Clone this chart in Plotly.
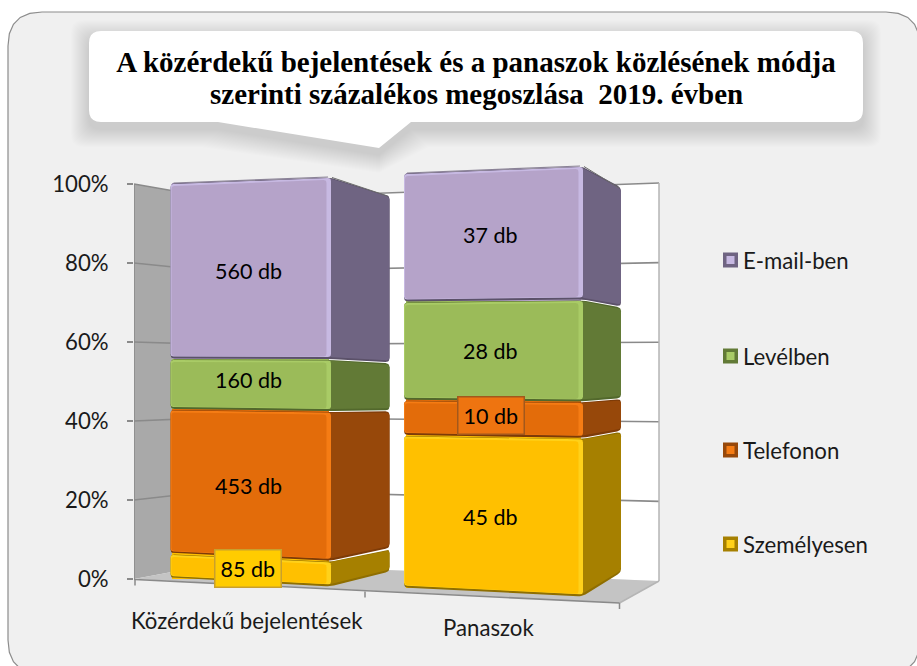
import plotly.graph_objects as go

# ---- data ----
categories = ["Közérdekű bejelentések", "Panaszok"]
series_names = ["Személyesen", "Telefonon", "Levélben", "E-mail-ben"]
szemelyesen = [85, 45]
telefonon = [453, 10]
levelben = [160, 28]
email = [560, 37]
y_ticks = [0, 20, 40, 60, 80, 100]
y_tick_labels = ["0%", "20%", "40%", "60%", "80%", "100%"]
title_line1 = "<b>A közérdekű bejelentések és a panaszok közlésének módja</b>"
title_line2 = "<b>szerinti százalékos megoszlása\u00a0 2019. évben</b>"

series_values = [szemelyesen, telefonon, levelben, email]
front_col = ["#ffc000", "#e36c0a", "#9bbb59", "#b5a3c9"]
light_col = ["#ffd11a", "#f57c14", "#a9cb66", "#c7b9e2"]
side_col = ["#a68000", "#97480a", "#627a36", "#6f6482"]
dark_col = ["#8f6e00", "#7d3b08", "#52682c", "#5b5169"]
# small px corrections for the perspective of the original drawing
label_nudge = [[3, 5, -4, 0], [7, 0, 2, -2]]
boundary_nudge = [[0, 2, 0, 0, 0], [0, 3, 2.5, 1, 0]]

W, H = 917, 666
L, R, T, B = 134, 900, 150, 640  # plot area, px
FONT = "Lato"
FS = 21.5
FS2 = 22.2

# x scale: category 0 at px 250.5, category 1 at px 493
def X(px):
    return (px - 250.5) / 242.5

def Y(px):
    return (579 - px) / 3.95

# perspective of each stack: px of a cumulative percentage on three vertical edges
persp = [
    dict(left=(578.5, 183), right=(587, 177), side=(572, 195), xs=(170.5, 330, 389.5)),
    dict(left=(588, 173), right=(597, 166), side=(573, 187), xs=(404, 582, 621)),
]

def edge(p, name, c, nudge=0):
    a, b = p[name]
    return a + (b - a) * c / 100 + nudge

def round_poly(pts, r, sharp=()):
    out = []
    n = len(pts)
    for i in range(n):
        p0, p1, p2 = pts[i - 1], pts[i], pts[(i + 1) % n]
        if i in sharp:
            out.append(p1)
            continue
        def toward(a, b, d):
            dx, dy = b[0] - a[0], b[1] - a[1]
            ln = max((dx * dx + dy * dy) ** 0.5, 1e-6)
            d = min(d, ln / 2)
            return (a[0] + dx * d / ln, a[1] + dy * d / ln)
        s, e = toward(p1, p0, r), toward(p1, p2, r)
        for k in range(6):
            t = k / 5
            out.append(((1 - t) ** 2 * s[0] + 2 * t * (1 - t) * p1[0] + t * t * e[0],
                        (1 - t) ** 2 * s[1] + 2 * t * (1 - t) * p1[1] + t * t * e[1]))
    return out

fig = go.Figure()

def poly(pts, color, ymap, yaxis, r=0):
    if r:
        pts = round_poly(pts, r)
    pts = list(pts) + [pts[0]]
    fig.add_trace(go.Scatter(x=[X(p[0]) for p in pts], y=[ymap(p[1]) for p in pts], yaxis=yaxis,
                             mode="lines", line=dict(width=0), fill="toself", fillcolor=color,
                             hoverinfo="skip", showlegend=False))

def line(pts, color, width, ymap=Y, yaxis="y"):
    fig.add_trace(go.Scatter(x=[X(p[0]) for p in pts], y=[ymap(p[1]) for p in pts], yaxis=yaxis,
                             mode="lines", line=dict(color=color, width=width),
                             hoverinfo="skip", showlegend=False))

# ---- chart frame ----
def wall_l(t):  # px at the inner corner
    return 563 - 364 * t / 100
def wall_r(t):
    return 581 - 398 * t / 100
def axis_px(t):
    return 579 - 395 * t / 100

poly([(659, wall_r(100)), (220, wall_l(100)), (220, wall_l(0)), (659, wall_r(0))], "#ffffff", Y, "y")
poly([(134, axis_px(100)), (220, wall_l(100)), (220, wall_l(0)), (134, axis_px(0))], "#a9a9a9", Y, "y")
poly([(134, axis_px(0)), (220, wall_l(0)), (659, wall_r(0)), (619.5, 603)], "#c4c4c4", Y, "y")
for t in y_ticks:
    if t:
        line([(134, axis_px(t)), (220, wall_l(t)), (659, wall_r(t))], "#8a8a8a", 1.6)
line([(659, wall_r(100)), (659, wall_r(0))], "#b5b5b5", 1.5)
line([(659, wall_r(0)), (619.5, 603)], "#b5b5b5", 1.5)
line([(134, axis_px(100)), (134, axis_px(0)), (135, 579.5), (619.5, 603)], "#8a8a8a", 1.6)
for px, py in [(135, 579.5), (365, 591.5), (619.5, 603)]:
    line([(px, py), (px, py + 6)], "#8a8a8a", 1.5)

# ---- stacked bars ----
totals = [sum(s[i] for s in series_values) for i in range(len(categories))]
axes = ["y2", "y3"]
for b, cat in enumerate(categories):
    p = persp[b]
    x0, x1, x2 = p["xs"]
    a, c = p["left"]
    ymap = (lambda a, c: (lambda px: (px - a) / (c - a) * 100))(a, c)
    cum = 0
    label_pos = []
    for i, name in enumerate(series_names):
        pct = series_values[i][b] / totals[b] * 100
        fig.add_trace(go.Bar(x=[b], y=[pct], width=(x1 - x0 - 3) / 242.5, yaxis=axes[b],
                             name=name, marker=dict(color=front_col[i], line=dict(width=0)),
                             showlegend=False,
                             hovertemplate=f"{cat}<br>{name}: {series_values[i][b]} db<extra></extra>"))
        label_pos.append(cum + pct / 2)
        cum += pct
    cum = 0
    for i, name in enumerate(series_names):
        pct = series_values[i][b] / totals[b] * 100
        cum2 = cum + pct
        n0, n1 = boundary_nudge[b][i], boundary_nudge[b][i + 1]
        lb, lt = edge(p, "left", cum, n0), edge(p, "left", cum2, n1)
        rb, rt = edge(p, "right", cum, n0), edge(p, "right", cum2, n1)
        sb, st = edge(p, "side", cum, n0), edge(p, "side", cum2, n1)
        # dark seam under the block, then side and front faces with bevels
        poly([(x0, lt + .5), (x1, rt + .5), (x2, st + .5), (x2, sb - .5), (x1, rb - .5), (x0, lb - .5)],
             dark_col[i], ymap, axes[b], r=4)
        poly([(x1 - 1, rt + 1), (x2, st + 2), (x2, sb - 2.5), (x1 - 1, rb - 2.5)], side_col[i], ymap, axes[b], r=3)
        poly([(x0, lt + 1), (x1 + 1, rt + 1), (x1 + 1, rb - 2.5), (x0, lb - 2.5)], light_col[i], ymap, axes[b], r=3)
        poly([(x0 + 1, lt + 3), (x1 - 3.5, rt + 3), (x1 - 3.5, rb - 3), (x0 + 1, lb - 3)], front_col[i], ymap, axes[b], r=3)
        if i == len(series_names) - 1:
            line([(x0 + 3, lt), (x1 - 2, rt)], "#8b8397", 1.2, ymap, axes[b])
            line([(x1 + 2, rt + .5), (x2 - 2, st + 1)], "#6a6a6a", 1, ymap, axes[b])
        cum = cum2
    # value labels
    for i, name in enumerate(series_names):
        val = series_values[i][b]
        boxed = (b == 0 and i == 0) or (b == 1 and i == 1)
        fig.add_annotation(x=b - 0.01, y=label_pos[i], xref="x", yref=axes[b], yanchor="middle",
                           yshift=-label_nudge[b][i],
                           text=f"{val} db", showarrow=False,
                           font=dict(family=FONT, size=FS, color="#000000"),
                           bgcolor=("#ffcc00" if i == 0 else "#ee7410") if boxed else None,
                           bordercolor=("#c9a02c" if i == 0 else "#a2581c") if boxed else None,
                           borderwidth=1.5 if boxed else 0,
                           borderpad=5 if boxed else 0)

# ---- legend (swatch + label, spaced as in the chart) ----
legend_px = [544, 450, 356, 260]
for i, name in enumerate(series_names):
    sy = [Y(legend_px[i])]
    fig.add_trace(go.Scatter(x=[X(730.5)], y=sy, mode="markers", hoverinfo="skip", showlegend=False,
                             marker=dict(symbol="square", size=15, color=side_col[i])))
    fig.add_trace(go.Scatter(x=[X(730.5)], y=sy, mode="markers", hoverinfo="skip", showlegend=False,
                             marker=dict(symbol="square", size=8, color=light_col[i])))
    fig.add_annotation(x=X(741), y=sy[0], xref="x", yref="y", xanchor="left", yanchor="middle",
                       text=name, showarrow=False, font=dict(family=FONT, size=FS2, color="#1a1a1a"))

# ---- category labels ----
for b, (cat, px, py) in enumerate(zip(categories, (247, 488), (620, 627))):
    fig.add_annotation(x=X(px), y=Y(py), xref="x", yref="y", yanchor="middle", text=cat, showarrow=False,
                       font=dict(family=FONT, size=FS2, color="#1a1a1a"))

# ---- panel and callout ----
def pxs(px):
    return (px - L) / (R - L)
def pys(py):
    return (B - py) / (B - T)
def path(pts):
    return "M" + "L".join(f"{pxs(x):.5f},{pys(y):.5f}" for x, y in pts) + "Z"

shapes = [dict(type="path", xref="paper", yref="paper", layer="below",
               path=path(round_poly([(8, 12), (920, 12), (920, 674), (8, 674)], 34)),
               fillcolor="#f0f0f0", line=dict(color="#8c8c8c", width=1.2))]
def callout(e, dy):
    return round_poly([(89 - e, 31 - e + dy), (863 + e, 31 - e + dy), (863 + e, 122 + e + dy), (411 + e, 122 + e + dy),
                       (379, 148 + e + dy), (218 - e, 122 + e + dy), (89 - e, 122 + e + dy), (89 - e, 90 + dy)],
                      12, sharp=(3, 4, 5))
for e in range(18, 0, -1):
    shapes.append(dict(type="path", xref="paper", yref="paper", layer="below", path=path(callout(e, 7)),
                       fillcolor="rgba(0,0,0,0.0065)", line=dict(width=0)))
shapes.append(dict(type="path", xref="paper", yref="paper", layer="below", path=path(callout(0, 0)),
                   fillcolor="#ffffff", line=dict(width=0)))

fig.add_annotation(x=(476 - L) / (R - L), y=(B - 94) / (B - T), xref="paper", yref="paper", yanchor="middle",
                   text=title_line2, showarrow=False, font=dict(family="Liberation Serif", size=29, color="#000000"))

fig.update_layout(
    width=W, height=H, autosize=False, paper_bgcolor="#ffffff", plot_bgcolor="rgba(0,0,0,0)",
    margin=dict(l=L, r=W - R, t=T, b=H - B, pad=0), barmode="stack", bargap=0, showlegend=False,
    title=dict(text=title_line1, x=476 / W, y=1 - 62 / H, xanchor="center", yanchor="middle", xref="container", yref="container",
               font=dict(family="Liberation Serif", size=29, color="#000000")),
    shapes=shapes,
    xaxis=dict(range=[X(L), X(R)], showgrid=False, zeroline=False, showticklabels=False, ticks="", showline=False, tickvals=[0, 1], fixedrange=True),
    yaxis=dict(range=[Y(B), Y(T)], tickvals=y_ticks, ticktext=y_tick_labels, ticks="outside", ticklen=6, tickwidth=1.5, tickcolor="#8a8a8a",
               ticklabelstandoff=14,
               showgrid=False, zeroline=False, showline=False, tickfont=dict(family=FONT, size=FS2, color="#1a1a1a"), fixedrange=True),
    yaxis2=dict(overlaying="y", visible=False, fixedrange=True,
                range=[(B - 578.5) / (183 - 578.5) * 100, (T - 578.5) / (183 - 578.5) * 100]),
    yaxis3=dict(overlaying="y", visible=False, fixedrange=True,
                range=[(B - 588) / (173 - 588) * 100, (T - 588) / (173 - 588) * 100]),
)

fig.write_html("out.html", config={"displayModeBar": False},
               post_script="document.body.style.margin='0';document.body.style.overflow='hidden';")
